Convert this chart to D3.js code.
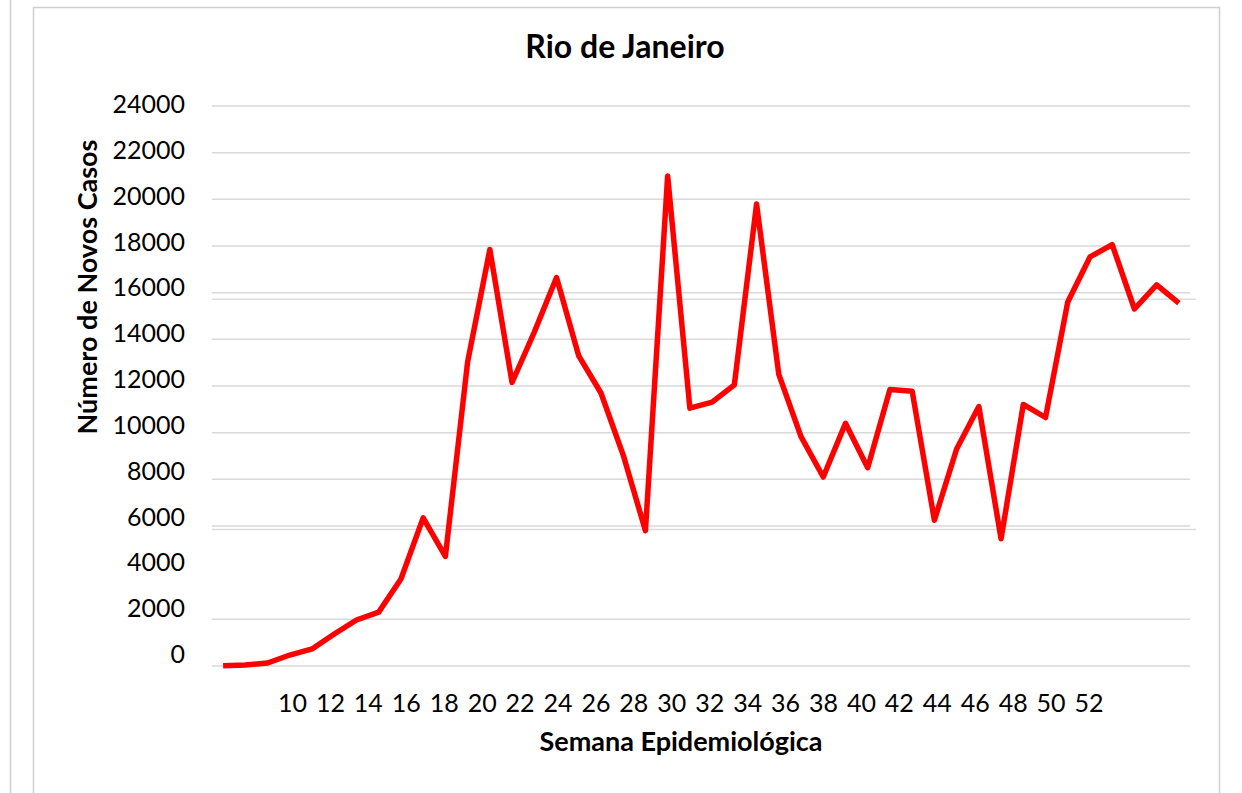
<!DOCTYPE html>
<html>
<head>
<meta charset="utf-8">
<script src="https://cdn.jsdelivr.net/npm/d3@7"></script>
<style>
  body { margin: 0; background: #fff; }
  svg { display: block; }
  text { font-family: Lato, "Open Sans", sans-serif; fill: #000; }
</style>
</head>
<body>
<svg id="chart" width="1242" height="793"></svg>
<script>
// semana epidemiologica (categorias) e novos casos por semana
const weeks = [10, 11, 12, 13, 14, 15, 16, 17, 18, 19, 20, 21, 22, 23, 24, 25,
  26, 27, 28, 29, 30, 31, 32, 33, 34, 35, 36, 37, 38, 39, 40, 41, 42, 43, 44,
  45, 46, 47, 48, 49, 50, 51, 52, 53];
const newCases = [10, 40, 130, 470, 730, 1370, 1970, 2310, 3730, 6350, 4700,
  13030, 17850, 12150, 14310, 16650, 13290, 11700, 9040, 5800, 21000, 11050,
  11310, 12050, 19800, 12500, 9830, 8100, 10400, 8500, 11850, 11780, 6250,
  9300, 11120, 5450, 11210, 10650, 15600, 17530, 18060, 15300, 16330, 15550];

// rotulos dos eixos
const xTickLabels = [10, 12, 14, 16, 18, 20, 22, 24, 26, 28, 30, 32, 34, 36,
  38, 40, 42, 44, 46, 48, 50, 52];
const yTicks = [0, 2000, 4000, 6000, 8000, 10000, 12000, 14000, 16000, 18000,
  20000, 22000, 24000];
const gridTicks = [0, 2000, 6000, 8000, 10000, 12000, 14000, 16000, 18000,
  20000, 22000, 24000]; // no line at 4000 in the original

const title = "Rio de Janeiro";
const xTitle = "Semana Epidemiológica";
const yTitle = "Número de Novos Casos";

const svg = d3.select("#chart");

// frame of the chart area + edge of the neighbouring chart
svg.append("line")
  .attr("x1", 10.5).attr("x2", 10.5).attr("y1", 0).attr("y2", 793)
  .attr("stroke", "#d0d0d0").attr("stroke-width", 1.5);
svg.append("rect")
  .attr("x", 33.5).attr("y", 7.5)
  .attr("width", 1186).attr("height", 800)
  .attr("fill", "none")
  .attr("stroke", "#d0d0d0").attr("stroke-width", 1.5);

const x = d3.scalePoint().domain(weeks).range([212, 1190]).padding(0.5);
const y = d3.scaleLinear().domain([0, 24000]).range([666, 106]);

// labels sit on slightly different positions than the points in the picture
const xLabel = d3.scalePoint().domain(xTickLabels).range([292.5, 1089]);
const yLabel = d3.scaleLinear().domain([0, 24000]).range([663, 113]);

// gridlines
svg.append("g")
  .selectAll("line")
  .data(gridTicks)
  .join("line")
  .attr("x1", 212).attr("x2", 1190)
  .attr("y1", d => y(d)).attr("y2", d => y(d))
  .attr("stroke", "#d9d9d9").attr("stroke-width", 1.5);

// doubled lines left by the original image
svg.append("g")
  .selectAll("line")
  .data([6000, 16000])
  .join("line")
  .attr("x1", 212).attr("x2", 1196)
  .attr("y1", (d, i) => y(d) + (i ? 6.5 : 3.5))
  .attr("y2", (d, i) => y(d) + (i ? 6.5 : 3.5))
  .attr("stroke", "#dcdcdc").attr("stroke-width", 1.5);

// y tick labels
svg.append("g")
  .selectAll("text")
  .data(yTicks)
  .join("text")
  .attr("x", 185)
  .attr("y", d => yLabel(d))
  .attr("text-anchor", "end")
  .style("font-size", "25px")
  .text(d => d);

// x tick labels
svg.append("g")
  .selectAll("text")
  .data(xTickLabels)
  .join("text")
  .attr("x", d => xLabel(d))
  .attr("y", 712)
  .attr("text-anchor", "middle")
  .style("font-size", "25px")
  .text(d => d);

// the series
const line = d3.line()
  .x((d, i) => x(weeks[i]))
  .y(d => y(d));

svg.append("path")
  .datum(newCases)
  .attr("d", line)
  .attr("fill", "none")
  .attr("stroke", "#ff0000")
  .attr("stroke-width", 5.5)
  .attr("stroke-linejoin", "round");

// titles
svg.append("text")
  .attr("x", 625).attr("y", 58)
  .attr("text-anchor", "middle")
  .style("font-size", "32px").style("font-weight", "bold")
  .text(title);

svg.append("text")
  .attr("x", 681).attr("y", 751)
  .attr("text-anchor", "middle")
  .style("font-size", "27px").style("font-weight", "bold")
  .text(xTitle);

svg.append("text")
  .attr("transform", "translate(97,287) rotate(-90)")
  .attr("text-anchor", "middle")
  .style("font-size", "27px").style("font-weight", "bold")
  .text(yTitle);
</script>
</body>
</html>
